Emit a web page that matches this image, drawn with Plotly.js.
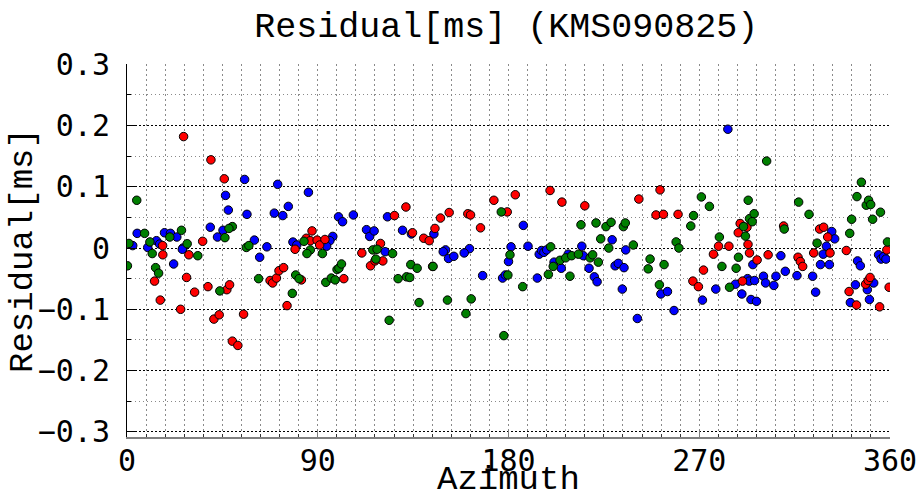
<!DOCTYPE html>
<html>
<head>
<meta charset="utf-8">
<script src="https://cdn.plot.ly/plotly-3.0.1.min.js"></script>
<style>html,body{margin:0;padding:0;background:#fff;}#chart{width:922px;height:496px;}</style>
</head>
<body>
<div id="chart"></div>
<script>
const chartTitle = 'Residual[ms] (KMS090825)';
const xTitle = 'Azimuth';
const yTitle = 'Residual[ms]';
const xTickVals = [0, 90, 180, 270, 360];

const redAz = [26.7,39.6,45.9,35.7,16.8,87.3,84.6,86.5,89.7,90.9,93.4,119.6,79.3,126.2,
  16.9,13,15.7,25.3,29.2,28.1,31.9,38.2,47.1,48.4,41,43.5,49.7,52.3,55,67.5,68.7,70.5,71.7,73.9,75.5,82.3,102.3,110.8,114.9,117,120.7,
  131.6,134.7,140,142.6,145.3,147.9,152,160.8,162.1,166.8,173.1,179.4,183.2,199.6,205.2,216,241.5,251.5,249.6,144.2,
  253.1,260,289.3,292.5,288.4,279.1,284,293,309.8,326.8,328.7,330.6,339.4,358.5,
  276.7,293.7,297.3,302.5,272,267,269.6,290.4,316.6,317.7,318.8,324,331.7,340.7,344.2,348.5,349.7,350.6,355.1,359.6];
const redRes = [0.182,0.144,0.113,0.011,0.004,0.028,0.016,0.012,0.013,0.005,0.014,0.0075,-0.002,0.053,
  -0.011,-0.054,-0.085,-0.100,-0.011,-0.048,-0.072,-0.063,-0.068,-0.060,-0.116,-0.109,-0.152,-0.159,-0.108,-0.053,-0.057,-0.049,-0.037,-0.032,-0.094,-0.052,-0.050,-0.008,-0.029,-0.021,-0.021,
  0.067,0.025,0.016,0.012,0.032,0.049,0.058,0.056,0.054,0.033,0.078,0.059,0.087,0.094,0.075,0.069,0.080,0.095,0.054,-0.030,
  0.055,0.055,0.040,0.034,0.025,0.003,0.003,0.006,0.036,0.031,0.034,0.018,-0.004,-0.003,
  -0.010,-0.008,-0.0195,-0.011,-0.036,-0.054,-0.063,-0.054,-0.015,-0.022,-0.030,-0.008,-0.008,-0.071,-0.093,-0.059,-0.053,-0.048,-0.096,-0.064];

const blueAz = [55.5,46.5,47.8,56.6,71.1,76.1,69.5,73.5,85.6,99.8,101.7,106.8,122.9,113,114.5,116.6,130,45.3,39.3,42.7,17.7,20.5,23.5,4.8,13.9,2.7,9.8,15.4,26.4,78.3,80.1,97.1,95.7,94.2,60.1,66,
  22,26.1,62.6,121.8,
  134.2,144.8,150.3,161.6,187,181.2,189.2,214.6,228.9,235.3,
  149.2,151.7,154.2,159.1,167.8,177.2,178.5,180,193.6,194.5,195.6,196.7,198,201.5,204.9,208.2,215.3,218,220.5,221.8,230.3,231.8,234.5,233.7,240.8,251.9,
  283.5,332.5,333.9,330,
  255,258.1,277.8,271.5,287.1,292.8,293.6,296.1,290.1,294.4,297,295.3,300.3,301.3,305.2,306.2,310.6,316.1,308.5,323.5,324.9,328.5,327.2,331.4,344.7,346,343.7,341.3,349.3,352.3,350.3,354.6,355.8,357,358.1];
const blueRes = [0.112,0.086,0.062,0.055,0.104,0.068,0.057,0.053,0.091,0.051,0.043,0.054,0.051,0.030,0.019,0.028,0.029,0.029,0.034,0.018,0.025,0.024,0.018,0.024,0.012,0.004,0.001,0.0065,0,0.0098,0.005,0.019,0.012,0.003,0.013,0.002,
  -0.026,-0.002,-0.015,-0.006,
  0.023,0.023,-0.003,-0.001,0.037,0.002,0.003,0.003,0.0135,-0.003,
  -0.006,-0.017,-0.0135,-0.008,-0.045,-0.049,-0.044,-0.022,-0.049,-0.010,-0.004,-0.007,-0.003,-0.023,-0.033,-0.010,-0.0125,-0.033,-0.047,-0.055,-0.029,-0.025,-0.032,-0.067,-0.115,-0.075,
  0.194,0.027,0.015,0.003,
  -0.071,-0.102,-0.067,-0.085,-0.059,-0.050,-0.054,-0.053,-0.075,-0.084,-0.087,-0.027,-0.046,-0.057,-0.061,-0.046,-0.038,-0.045,-0.0125,-0.046,-0.072,-0.010,-0.027,-0.027,-0.021,-0.029,-0.060,-0.089,-0.068,-0.057,-0.084,-0.011,-0.018,-0.014,-0.018];

const greenAz = [4.6,49.7,48.1,46.2,25.7,20.2,8.3,10.8,28.4,0.9,83.5,56.3,57.5,86.5,116,118,
  0.2,11.9,13.5,14.9,33.4,43.8,62.1,78,79.6,81.2,84.9,92.2,93.8,96.4,98.2,99.1,100,101.2,117.4,125.3,123.7,127.9,
  176.6,199.9,214.2,221.3,226,228.4,234.2,235.1,223.5,227.3,238.9,
  133.9,136.9,131.9,133.4,144.4,137.8,151.2,162.4,159.9,179.7,180.7,186.7,177.8,198.8,201.1,204.3,207,209.8,213,209,218.5,219.7,222.4,246.8,245.9,251.2,
  301.8,271,274.8,293.1,267.3,266,293.7,295.9,295,290.9,291.8,279.5,259.1,260.4,316.9,321.8,310.1,325.6,341,341.9,344.4,346.5,348.8,349.9,350.9,351.8,355.5,358.8,
  288.5,280.7,287.4,253.4,284.3];
const greenRes = [0.078,0.035,0.032,0.017,0.029,0.018,0.024,0.010,0.007,0.0075,0.011,0.001,0.004,-0.003,-0.003,-0.002,
  -0.029,-0.009,-0.032,-0.041,-0.0125,-0.070,-0.050,-0.074,-0.044,-0.050,-0.009,-0.009,-0.056,-0.049,-0.052,-0.035,-0.033,-0.026,-0.018,-0.009,-0.118,-0.050,
  0.059,0.002,0.038,0.041,0.035,0.042,0.035,0.041,0.015,0,0.005,
  -0.027,-0.033,-0.047,-0.048,-0.030,-0.089,-0.085,-0.083,-0.107,-0.044,-0.011,-0.063,-0.143,-0.043,-0.030,-0.020,-0.016,-0.0125,-0.010,-0.046,-0.016,-0.011,-0.023,-0.018,-0.034,-0.060,
  0.142,0.0835,0.068,0.078,0.053,0.036,0.048,0.056,0.043,0.035,0.0195,0.018,0.010,0,0.075,0.055,0.031,0.008,0.024,0.047,0.084,0.1075,0.070,0.078,0.071,0.047,0.0585,0.010,
  -0.015,-0.030,-0.033,-0.027,-0.064];

function series(x, y, color) {
  return {
    type: 'scatter', mode: 'markers', x: x, y: y, showlegend: false, cliponaxis: true,
    marker: {size: 8.5, color: color, line: {color: '#000000', width: 1}}
  };
}

const data = [
  series(blueAz, blueRes, '#0000ff'),
  series(redAz, redRes, '#ff0000'),
  series(greenAz, greenRes, '#007f00')
];

const tickFont = {family: 'DejaVu Sans Mono', size: 30, color: '#000000'};
const titleFont = {family: 'Liberation Mono', size: 35, color: '#000000'};
const axisTitleFont = {family: 'Liberation Mono', size: 34, color: '#000000'};

const layout = {
  width: 922, height: 496,
  margin: {l: 127, r: 32, t: 64, b: 59, pad: 0},
  paper_bgcolor: '#ffffff', plot_bgcolor: '#ffffff',
  showlegend: false,
  title: {text: chartTitle, font: titleFont, x: 0.549, xanchor: 'center', xref: 'container', y: 0.95, yanchor: 'middle', yref: 'container'},
  xaxis: {
    range: [0, 360], tickmode: 'array', tickvals: xTickVals, ticktext: xTickVals.map(String),
    showgrid: false, zeroline: false,
    showline: true, linecolor: '#808080', linewidth: 2,
    ticks: 'inside', ticklen: 7, tickwidth: 1, tickcolor: '#808080',
    tickfont: tickFont, ticklabelstandoff: -4,
    minor: {dtick: 9, tick0: 0, ticks: 'inside', ticklen: 3, tickcolor: '#333333', showgrid: true, gridcolor: '#8a8a8a', griddash: '2px,3px', gridwidth: 1}
  },
  yaxis: {
    range: [-0.3085, 0.3005], dtick: 0.1, tick0: 0,
    showgrid: true, gridcolor: '#000000', griddash: '2px,2px', gridwidth: 1,
    zeroline: false,
    showline: true, linecolor: '#000000', linewidth: 1,
    ticks: 'inside', ticklen: 8, tickwidth: 1, tickcolor: '#000000',
    tickfont: tickFont, ticklabelstandoff: 10,
    minor: {dtick: 0.05, tick0: 0, ticks: 'inside', ticklen: 4, tickcolor: '#000000', showgrid: true, gridcolor: '#8a8a8a', griddash: '1px,3px', gridwidth: 1}
  },
  annotations: [
    {text: xTitle, font: axisTitleFont, xref: 'paper', yref: 'paper', x: 0.5, y: -0.116, xanchor: 'center', yanchor: 'middle', showarrow: false},
    {text: yTitle, font: axisTitleFont, textangle: -90, xref: 'paper', yref: 'paper', x: -0.137, y: 0.5, xanchor: 'center', yanchor: 'middle', showarrow: false}
  ]
};

Plotly.newPlot('chart', data, layout, {displayModeBar: false, staticPlot: true});
</script>
</body>
</html>
